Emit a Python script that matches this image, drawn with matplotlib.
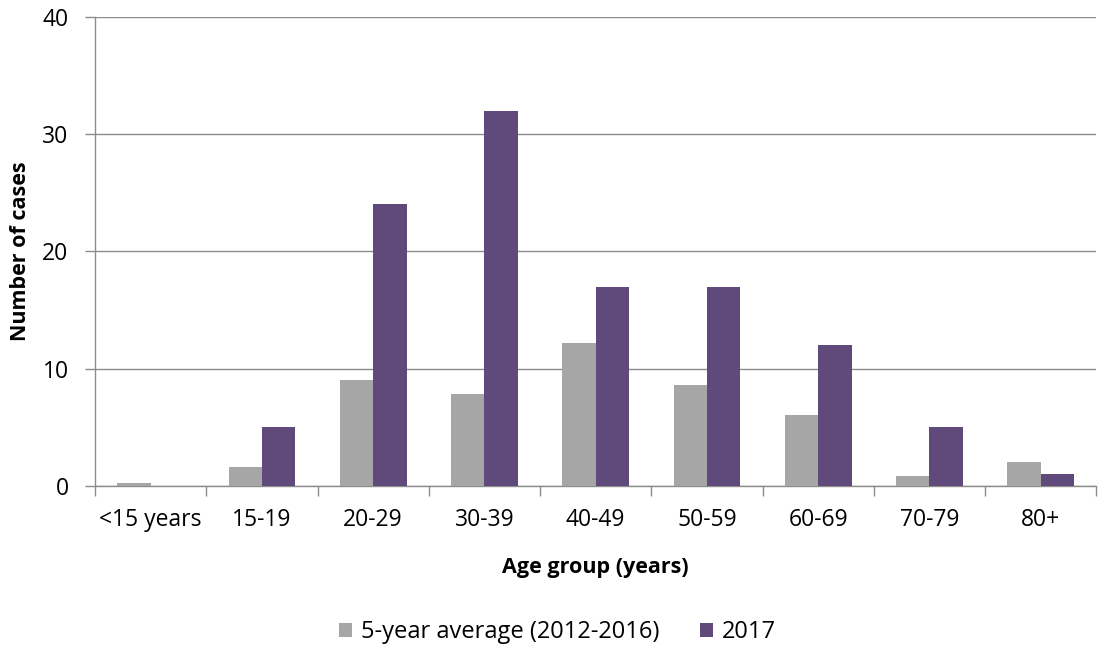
import numpy as np
import matplotlib
matplotlib.use("Agg")
import matplotlib.pyplot as plt

categories = ["<15 years", "15-19", "20-29", "30-39", "40-49", "50-59", "60-69", "70-79", "80+"]
avg_5yr = [0.25, 1.65, 9.0, 7.8, 12.2, 8.6, 6.05, 0.85, 2.05]
cases_2017 = [0, 5, 24, 32, 17, 17, 12, 5, 1]

plt.rcParams["font.family"] = ["Open Sans", "DejaVu Sans"]

fig = plt.figure(figsize=(11.15, 6.47), dpi=100)
ax = fig.add_axes([0.0852, 0.249, 0.898, 0.725])

x = np.arange(len(categories))
w = 0.3
ax.bar(x - w / 2, avg_5yr, width=w, color="#a6a6a6", label="5-year average (2012-2016)", zorder=3)
ax.bar(x + w / 2, cases_2017, width=w, color="#604a7b", label="2017", zorder=3)

ax.set_xlim(-0.5, len(categories) - 0.5)
ax.set_ylim(0, 40)
ax.set_yticks([0, 10, 20, 30, 40])
ax.yaxis.grid(True, color="#8c8c8c", linewidth=1, zorder=0)

ax.set_xticks(x)
ax.set_xticklabels(categories)
ax.set_xticks(np.arange(-0.5, len(categories), 1), minor=True)
ax.tick_params(axis="x", which="major", length=0, pad=16, labelsize=16.5)
ax.tick_params(axis="x", which="minor", length=7, color="#8c8c8c", width=1)
ax.tick_params(axis="y", length=7, color="#8c8c8c", width=1, labelsize=16.5, pad=12)

for s in ["top", "right"]:
    ax.spines[s].set_visible(False)
for s in ["left", "bottom"]:
    ax.spines[s].set_color("#8c8c8c")
    ax.spines[s].set_linewidth(1)

ax.set_xlabel("Age group (years)", fontsize=15.5, fontweight="bold", labelpad=18)
ax.set_ylabel("Number of cases", fontsize=15.5, fontweight="bold", labelpad=8)

fig.legend(loc="center", bbox_to_anchor=(0.5, 1 - 632 / 647), ncol=2, frameon=False,
           fontsize=17, handlelength=0.55, handleheight=0.55, handletextpad=0.38, columnspacing=1.7)

fig.savefig("out.png", dpi=100)
